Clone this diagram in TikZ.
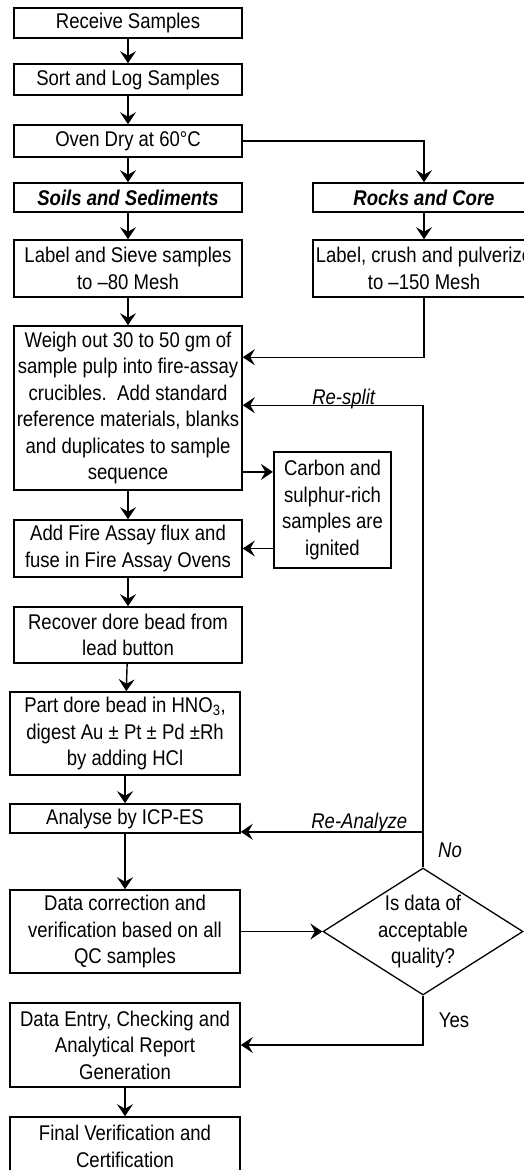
\documentclass[tikz,border=0pt]{standalone}
\usepackage{fontspec}
\setmainfont{Liberation Sans}[FakeStretch=0.87]
\usetikzlibrary{arrows.meta,shapes.geometric,calc}
\begin{document}
\begin{tikzpicture}[x=1pt,y=-1pt,
  font=\fontsize{21.3}{26.5}\selectfont,
  box/.style={draw, line width=1.6pt, align=center, inner sep=0pt, minimum width=228pt},
  lbox/.style={box, minimum width=230pt},
  bi/.style={font=\fontsize{21.3}{26.5}\selectfont\bfseries\itshape},
  arr/.style={line width=1.4pt, -{Stealth[length=12pt,width=16pt,inset=4.5pt]}},
  lbl/.style={font=\fontsize{21.3}{22}\selectfont\itshape, inner sep=0pt}]
\useasboundingbox (0,0) rectangle (524,1170);
\fill[white] (0,0) rectangle (524,1170);

\node[box, minimum height=30pt] (rec) at (128,23) {Receive Samples};
\node[box, minimum height=31pt] (sort) at (128,79.5) {Sort and Log Samples};
\node[box, minimum height=32pt] (oven) at (128,141) {Oven Dry at 60°C};
\node[box, bi, minimum height=29pt] (soils) at (128,197.5) {Soils and Sediments};
\node[box, bi, minimum height=29pt, minimum width=222pt] (rocks) at (424,197.5) {Rocks and Core};
\node[box, minimum height=57pt] (sieve) at (128,268.5) {Label and Sieve samples\\to –80 Mesh};
\node[box, minimum height=57pt, minimum width=222pt] (crush) at (424,268.5) {Label, crush and pulverize\\to –150 Mesh};
\node[box, minimum height=164pt] (weigh) at (128,408) {Weigh out 30 to 50 gm of\\sample pulp into fire-assay\\crucibles.\ \ Add standard\\reference materials, blanks\\and duplicates to sample\\sequence};
\node[box, minimum width=117pt, minimum height=116pt, line width=2.2pt] (carbon) at (332.5,510) {Carbon and\\sulphur-rich\\samples are\\ignited};
\node[box, minimum height=57pt] (fire) at (128,548.5) {Add Fire Assay flux and\\fuse in Fire Assay Ovens};
\node[box, minimum height=56pt] (recover) at (128,635) {Recover dore bead from\\lead button};
\node[lbox, minimum height=83pt] (part) at (125,733.5) {Part dore bead in HNO\textsubscript{3},\\digest Au ± Pt ± Pd ±Rh\\by adding HCl};
\node[lbox, minimum height=29pt] (ana) at (125,818.5) {Analyse by ICP-ES};
\node[lbox, minimum height=83pt] (dc) at (125,931.5) {Data correction and\\verification based on all\\QC samples};
\node[diamond, draw, line width=1.3pt, minimum width=200pt, minimum height=127pt, inner sep=0pt] (dia) at (423,931.5) {};
\node[align=center, inner sep=0pt] (diat) at (dia.center) {Is data of\\acceptable\\quality?};
\node[lbox, minimum height=84pt] (de) at (125,1045) {Data Entry, Checking and\\Analytical Report\\Generation};
\node[lbox, minimum height=59pt] (fin) at (125,1146.5) {Final Verification and\\Certification};

\draw[arr] (rec) -- (sort);
\draw[arr] (sort) -- (oven);
\draw[arr] (oven) -- (soils);
\draw[arr] (oven.east) -| (rocks.north);
\draw[arr] (soils) -- (sieve);
\draw[arr] (rocks) -- (crush);
\draw[arr] (sieve) -- (weigh);
\coordinate (wIn1) at ($(weigh.north east)+(0,32)$);
\draw[arr] (crush.south) |- (wIn1);
\coordinate (wIn2) at ($(weigh.north east)+(0,80)$);
\draw[arr] (dia.north) |- (wIn2) node[lbl, pos=0.72, anchor=base, yshift=1pt] {Re-split};
\coordinate (cIn) at ($(carbon.north west)+(0,21)$);
\draw[arr] (weigh.east |- cIn) -- (cIn);
\draw[arr] (carbon.west |- fire.east) -- (fire.east);
\draw[arr] (weigh) -- (fire);
\draw[arr] (fire) -- (recover);
\draw[arr] (recover) -- (part);
\draw[arr] (part) -- (ana);
\coordinate (aIn) at ($(ana.south east)+(0,-2)$);
\draw[arr] (dia.north |- aIn) -- (aIn) node[lbl, pos=0.35, anchor=base, yshift=3pt] {Re-Analyze};
\node[lbl] (no) at (450,850) {No};
\draw[arr] (ana) -- (dc);
\draw[arr] (dc.east) -- (dia.west);
\draw[arr] (dia.south) |- (de.east);
\node[inner sep=0pt] (yes) at (454,1020) {Yes};
\draw[arr] (de) -- (fin);
\end{tikzpicture}
\end{document}
